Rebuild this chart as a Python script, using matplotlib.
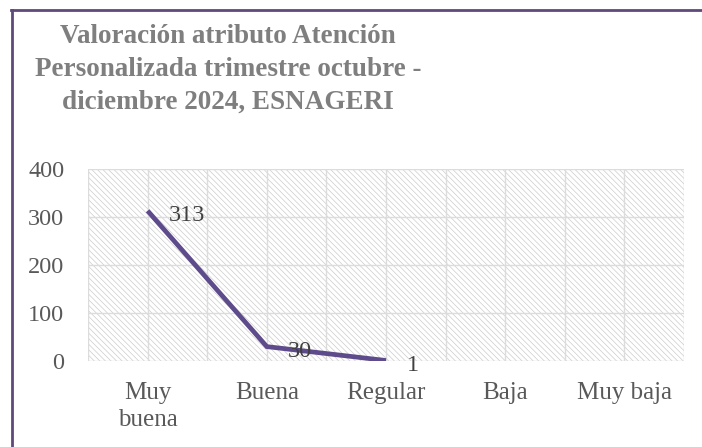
import numpy as np
import matplotlib
matplotlib.use("Agg")
import matplotlib.pyplot as plt
from matplotlib.lines import Line2D

categories = ["Muy\nbuena", "Buena", "Regular", "Baja", "Muy baja"]
values = [313, 30, 1, np.nan, np.nan]
yticks = [0, 100, 200, 300, 400]
title = "Valoración atributo Atención\nPersonalizada trimestre octubre -\ndiciembre 2024, ESNAGERI"

plt.rcParams["font.family"] = ["Liberation Serif", "DejaVu Serif"]
plt.rcParams["hatch.linewidth"] = 0.5

W, H = 702, 447
fig = plt.figure(figsize=(W / 100, H / 100), dpi=100)
fig.patch.set_facecolor("white")

ax = fig.add_axes([88 / W, (H - 361) / H, (684 - 88) / W, (361 - 169) / H])
ax.patch.set_facecolor("white")
ax.patch.set_hatch("\\\\\\\\\\\\")
ax.patch.set_edgecolor("#cccccc")
ax.patch.set_linewidth(0)

x = np.arange(len(categories))
ax.plot(x, values, color="#5E4B8B", lw=3.4, solid_capstyle="butt", solid_joinstyle="miter", zorder=3)
for xi, v in zip(x, values):
    if not np.isnan(v):
        ax.annotate(f"{int(v)}", (xi, v), xytext=(15, -3.5), textcoords="offset points",
                    ha="left", va="center", fontsize=17.5, color="#404040", zorder=4)

ax.set_xlim(-0.5, len(categories) - 0.5)
ax.set_ylim(0, 400)
ax.set_xticks(x)
ax.set_xticklabels(categories, fontsize=18, color="#595959", linespacing=1.3)
ax.set_xticks(np.arange(-0.5, len(categories), 1.0), minor=True)
ax.set_yticks(yticks)
ax.set_yticklabels([str(t) for t in yticks], fontsize=17.5, color="#595959")
ax.tick_params(axis="both", which="both", length=0)
ax.tick_params(axis="x", pad=15)
ax.tick_params(axis="y", pad=17)
ax.grid(True, which="major", color="#dcdcdc", lw=1.0, zorder=1)
ax.grid(True, which="minor", axis="x", color="#dcdcdc", lw=1.0, zorder=1)
ax.set_axisbelow(True)
for s in ax.spines.values():
    s.set_visible(False)

fig.text(228 / W, 1 - 24 / H, title, ha="center", va="top", fontsize=19.5,
         fontweight="bold", color="#7F7F7F", linespacing=1.42)

border = "#5F497A"
fig.add_artist(Line2D([11.5 / W, 11.5 / W], [0, 1 - 9.5 / H], color=border, lw=2.0,
                      transform=fig.transFigure))
fig.add_artist(Line2D([10.5 / W, 1], [1 - 9.5 / H, 1 - 9.5 / H], color=border, lw=2.0,
                      transform=fig.transFigure))

fig.savefig("out.png", dpi=100)
